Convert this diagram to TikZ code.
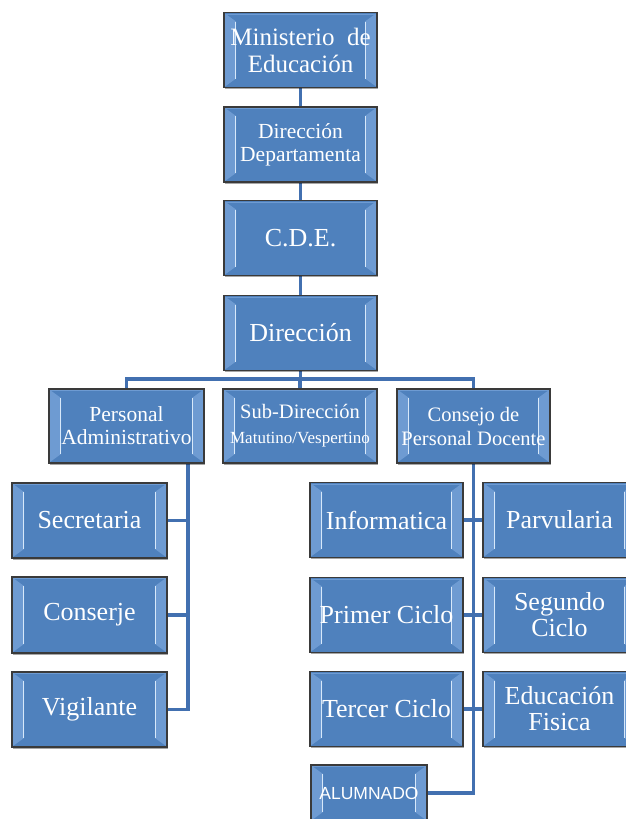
\documentclass[tikz,border=0pt]{standalone}
\usepackage{fontspec}
\setmainfont{Liberation Serif}
\newfontfamily\alufont{Liberation Sans}
\usetikzlibrary{shadows,backgrounds}
\definecolor{boxblue}{RGB}{79,129,189}
\definecolor{bevmid}{RGB}{110,155,210}
\definecolor{bevlight}{RGB}{215,232,250}
\definecolor{connblue}{RGB}{66,112,176}
\definecolor{boxedge}{RGB}{58,58,58}
\tikzset{
  orgbox/.style={draw=boxedge, line width=1.3pt, fill=boxblue, text=white,
    align=center, inner sep=0pt, minimum width=153pt, minimum height=75pt,
    drop shadow={shadow xshift=1.3pt, shadow yshift=-1.6pt, opacity=0.35, fill=black},
    path picture={
      \fill[bevmid]
        ([shift={(1pt,-1pt)}]path picture bounding box.north west)
        -- ([shift={(12pt,-9pt)}]path picture bounding box.north west)
        -- ([shift={(12pt,9pt)}]path picture bounding box.south west)
        -- ([shift={(1pt,1pt)}]path picture bounding box.south west) -- cycle;
      \draw[bevlight, line width=1.6pt]
        ([shift={(11.5pt,-9pt)}]path picture bounding box.north west)
        -- ([shift={(11.5pt,9pt)}]path picture bounding box.south west);
      \fill[bevmid]
        ([shift={(-1pt,-1pt)}]path picture bounding box.north east)
        -- ([shift={(-12pt,-9pt)}]path picture bounding box.north east)
        -- ([shift={(-12pt,9pt)}]path picture bounding box.south east)
        -- ([shift={(-1pt,1pt)}]path picture bounding box.south east) -- cycle;
      \draw[bevlight, line width=1.6pt]
        ([shift={(-11.5pt,-9pt)}]path picture bounding box.north east)
        -- ([shift={(-11.5pt,9pt)}]path picture bounding box.south east);
      \draw[bevmid, line width=0.8pt]
        ([shift={(1.2pt,-1.4pt)}]path picture bounding box.north west)
        -- ([shift={(-1.2pt,-1.4pt)}]path picture bounding box.north east);
    }},
  bigtxt/.style={font=\fontsize{26}{27}\selectfont},
  midtxt/.style={font=\fontsize{21.5}{23}\selectfont},
  lowtxt/.style={font=\fontsize{26}{26}\selectfont},
  conn/.style={draw=connblue, line width=3.2pt},
}
\begin{document}
\begin{tikzpicture}[x=1pt, y=-1pt]
\useasboundingbox (0,0) rectangle (626,819);

% top chain
\node[orgbox, font=\fontsize{25}{27}\selectfont] (min) at (300.5,50) {Ministerio~ de\\Educación};
\node[orgbox, midtxt] (dd) at (300.5,144.5) {Dirección\\Departamenta};
\node[orgbox, bigtxt] (cde) at (300.5,238) {C.D.E.};
\node[orgbox, bigtxt] (dir) at (300.5,333) {Dirección};

% level 2
\node[orgbox, midtxt, minimum width=155pt, minimum height=74pt] (pa) at (126.5,426) {Personal\\Administrativo};
\node[orgbox, font=\fontsize{20.5}{25}\selectfont, minimum width=154pt, minimum height=74pt] (sd) at (300,426) {Sub-Dirección\\{\fontsize{17}{20}\selectfont Matutino/Vespertino}};
\node[orgbox, font=\fontsize{20.5}{24}\selectfont, minimum width=153pt, minimum height=74pt] (co) at (473.5,426) {Consejo de\\Personal Docente};

% left column
\node[orgbox, lowtxt, minimum width=155pt] (sec) at (89.5,520.5) {Secretaria};
\node[orgbox, lowtxt, minimum width=155pt, minimum height=76pt] (cons) at (89.5,615) {Conserje};
\node[orgbox, lowtxt, minimum width=155pt] (vig) at (89.5,709.5) {Vigilante};

% right area
\node[orgbox, lowtxt] (inf) at (386.5,520) {Informatica};
\node[orgbox, lowtxt] (pri) at (386.5,615) {Primer Ciclo};
\node[orgbox, lowtxt] (ter) at (386.5,709) {Tercer Ciclo};
\node[orgbox, lowtxt] (par) at (559.5,520) {Parvularia};
\node[orgbox, lowtxt] (seg) at (559.5,615) {Segundo\\Ciclo};
\node[orgbox, lowtxt] (edu) at (559.5,709) {Educación\\Fisica};
\node[orgbox, font=\alufont\fontsize{17.5}{20}\selectfont, minimum width=116pt, minimum height=56pt] (alu) at (369,793) {ALUMNADO};

\coordinate (busL) at (126.5,379);
\coordinate (busR) at (473.5,379);
\coordinate (ltop) at (188,463);

\begin{pgfonlayer}{background}
  \fill[white] (0,0) rectangle (626,819);
  \draw[conn] (min) -- (dd);
  \draw[conn] (dd) -- (cde);
  \draw[conn] (cde) -- (dir);
  \draw[conn] (dir.south) -- (dir.south |- busL);
  \draw[conn] (pa.north) -- (busL) -- (busR) -- (co.north);
  \draw[conn] (sd.north) -- (sd.north |- busL);
  \draw[conn] (ltop) |- (vig.east);
  \draw[conn] (sec.east) -- (sec.east -| ltop);
  \draw[conn] (cons.east) -- (cons.east -| ltop);
  \draw[conn] (co.south) |- (alu.east);
  \draw[conn] (inf.east) -- (par.west);
  \draw[conn] (pri.east) -- (seg.west);
  \draw[conn] (ter.east) -- (edu.west);
\end{pgfonlayer}
\end{tikzpicture}
\end{document}
